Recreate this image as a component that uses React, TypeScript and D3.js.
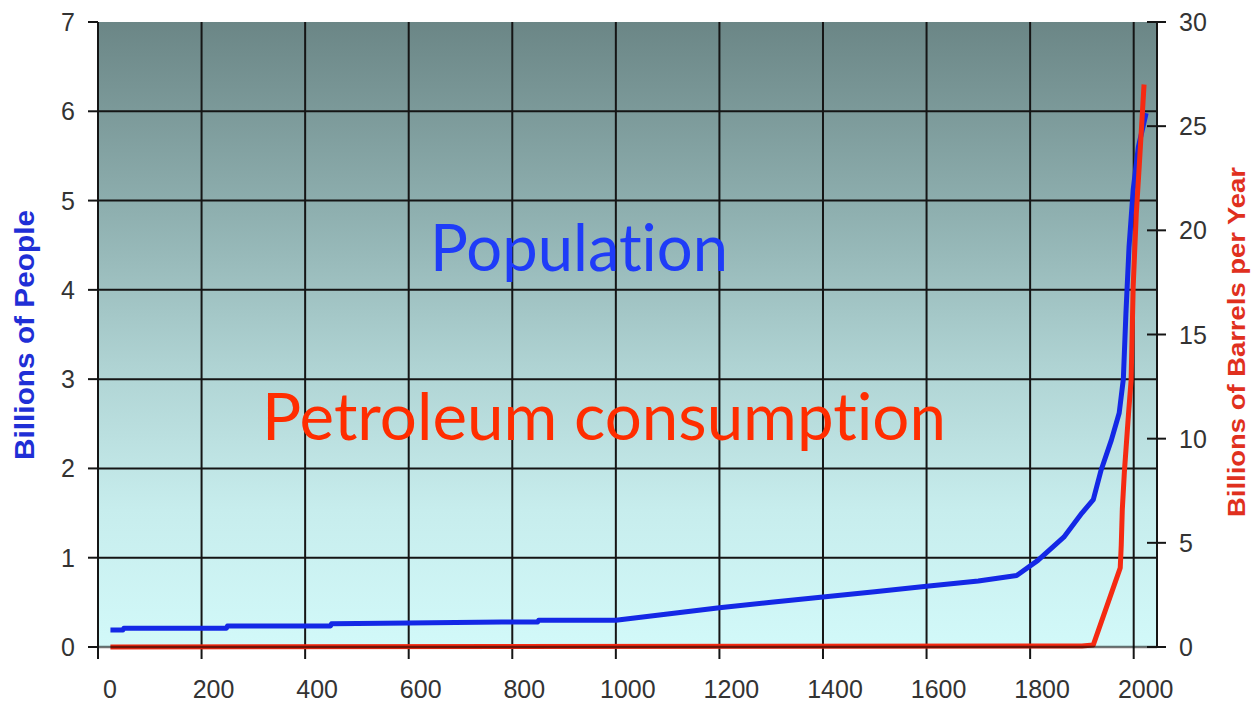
import React from "react";
import * as d3 from "d3";

const xTicks = [0, 200, 400, 600, 800, 1000, 1200, 1400, 1600, 1800, 2000];
const leftTicks = [0, 1, 2, 3, 4, 5, 6, 7];
const rightTicks = [0, 5, 10, 15, 20, 25, 30];

const popYears = [24, 48, 50, 248, 250, 449, 451, 600, 780, 849, 851, 1000, 1100, 1200, 1300, 1400, 1500, 1600, 1700, 1774, 1815, 1865, 1900, 1922, 1937, 1957, 1972, 1980, 1985, 1991, 1999, 2009, 2024];
const popValues = [0.19, 0.19, 0.21, 0.21, 0.235, 0.235, 0.26, 0.27, 0.28, 0.28, 0.3, 0.3, 0.37, 0.44, 0.5, 0.56, 0.62, 0.68, 0.74, 0.8, 0.97, 1.23, 1.5, 1.65, 1.98, 2.32, 2.62, 3.0, 3.74, 4.48, 5.12, 5.6, 5.98];

const oilYears = [24, 1900, 1922, 1974, 1976, 1978, 1982, 1990, 1995, 1999, 2005, 2011, 2020];
const oilValues = [0, 0.05, 0.1, 3.8, 4.9, 6.6, 8.4, 11.2, 12.8, 17.3, 20.8, 23.2, 27.0];

const W = 1253;
const H = 708;
const L = 98, R = 1157, T = 22, B = 647;

export default function App() {
  const x = d3.scaleLinear().domain([0, 2045]).range([L, R]);
  const yL = d3.scaleLinear().domain([0, 7]).range([B, T]);
  const yR = d3.scaleLinear().domain([0, 30]).range([B, T]);

  const popLine = d3.line<number>()
    .x((_, i) => x(popYears[i]))
    .y((v) => yL(v));
  const oilLine = d3.line<number>()
    .x((_, i) => x(oilYears[i]))
    .y((v) => yR(v));

  const tickFont = "'Liberation Sans', Arial, sans-serif";
  const bigStyle: React.CSSProperties = { fontVariantLigatures: "none", fontFeatureSettings: "'liga' 0, 'clig' 0" };

  return (
    <svg width={W} height={H} style={{ position: "absolute", left: 0, top: 0, display: "block", background: "#fff" }}>
      <defs>
        <linearGradient id="bg" x1="0" y1="0" x2="0" y2="1">
          <stop offset="0%" stopColor="#6b8686" />
          <stop offset="30%" stopColor="#8eafaf" />
          <stop offset="55%" stopColor="#afd3d3" />
          <stop offset="78%" stopColor="#c7eded" />
          <stop offset="100%" stopColor="#d2f9f9" />
        </linearGradient>
      </defs>
      <rect x={L} y={T} width={R - L} height={B - T} fill="url(#bg)" />

      {/* grid */}
      {xTicks.filter((t) => t > 0).map((t) => (
        <line key={"gx" + t} x1={x(t)} x2={x(t)} y1={T} y2={B + 12} stroke="#151515" strokeWidth={2} />
      ))}
      {leftTicks.filter((t) => t > 0 && t < 7).map((t) => (
        <line key={"gy" + t} x1={L} x2={R} y1={yL(t)} y2={yL(t)} stroke="#151515" strokeWidth={2} />
      ))}

      {/* series */}
      <path d={popLine(popValues) || ""} fill="none" stroke="#1428e6" strokeWidth={5} strokeLinejoin="round" />
      <path d={oilLine(oilValues) || ""} fill="none" stroke="#f52a12" strokeWidth={5} strokeLinejoin="round" />

      {/* axes */}
      <line x1={L} x2={R} y1={B} y2={B} stroke="#000" strokeOpacity={0.55} strokeWidth={2.5} />
      <line x1={L} x2={L} y1={T} y2={B + 12} stroke="#151515" strokeWidth={2} />
      <line x1={R} x2={R} y1={T} y2={B} stroke="#151515" strokeWidth={2} />

      {leftTicks.map((t) => (
        <g key={"lt" + t}>
          <line x1={L - 10} x2={L} y1={yL(t)} y2={yL(t)} stroke="#151515" strokeWidth={2} />
          <text x={75} y={yL(t)} dy="0.36em" textAnchor="end" fontFamily={tickFont} fontSize={25} fill="#333">{t}</text>
        </g>
      ))}
      {rightTicks.map((t) => (
        <g key={"rt" + t}>
          <line x1={R - 10} x2={R + 9} y1={yR(t)} y2={yR(t)} stroke="#151515" strokeWidth={2} />
          <text x={1179} y={yR(t)} dy="0.36em" textAnchor="start" fontFamily={tickFont} fontSize={25} fill="#333">{t}</text>
        </g>
      ))}
      {xTicks.map((t) => (
        <text key={"xt" + t} x={x(t) + 12} y={698} textAnchor="middle" fontFamily={tickFont} fontSize={25} fill="#333">{t}</text>
      ))}

      {/* axis titles */}
      <text transform="translate(34,335) rotate(-90)" textAnchor="middle" fontFamily="'Liberation Sans', Arial, sans-serif" fontWeight="bold" fontSize={27} fill="#1f2fd6" textLength={250} lengthAdjust="spacingAndGlyphs">Billions of People</text>
      <text transform="translate(1245,342) rotate(-90)" textAnchor="middle" fontFamily="'Liberation Sans', Arial, sans-serif" fontWeight="bold" fontSize={23} fill="#e0301e" textLength={350} lengthAdjust="spacingAndGlyphs">Billions of Barrels per Year</text>

      {/* annotations */}
      <text x={430} y={271} style={bigStyle} fontFamily="Lato, 'Open Sans', sans-serif" fontSize={66} fill="#1f3cf8" textLength={298} lengthAdjust="spacingAndGlyphs">Population</text>
      <text x={262} y={440} style={bigStyle} fontFamily="Lato, 'Open Sans', sans-serif" fontSize={66} fill="#ff2d00" textLength={684} lengthAdjust="spacingAndGlyphs">Petroleum consumption</text>
    </svg>
  );
}
